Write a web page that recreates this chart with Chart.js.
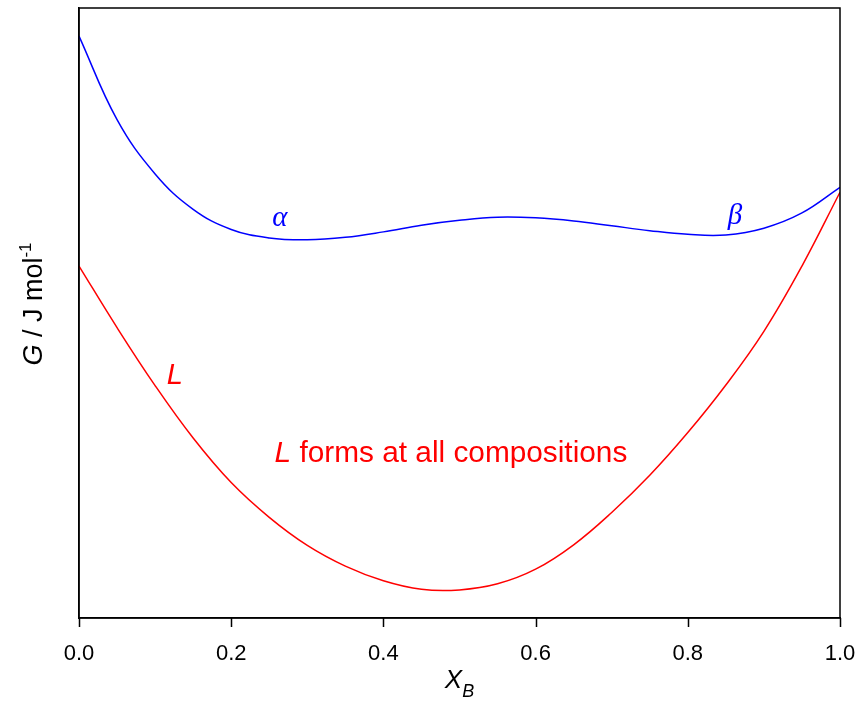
<!DOCTYPE html>
<html>
<head>
<meta charset="utf-8">
<script src="https://cdn.jsdelivr.net/npm/chart.js@4.4.1/dist/chart.umd.min.js"></script>
<style>
  html, body { margin: 0; padding: 0; background: #fff; }
  #wrap { width: 863px; height: 701px; }
</style>
</head>
<body>
<div id="wrap"><canvas id="gibbs"></canvas></div>
<script>
// composition X_B and free energy (arbitrary units, the G axis has no ticks)
const xB = [0, 0.05, 0.1, 0.15, 0.2, 0.25, 0.3, 0.35, 0.4, 0.45, 0.5, 0.55, 0.6, 0.65, 0.7, 0.75, 0.8, 0.85, 0.9, 0.95, 1.0];
const gSolid = [95.4, 81.7, 72.8, 67.0, 63.7, 62.3, 62.0, 62.4, 63.3, 64.4, 65.2, 65.7, 65.6, 65.1, 64.3, 63.5, 62.9, 62.8, 63.9, 66.4, 70.6];
const gLiquid = [57.7, 47.6, 38.1, 29.5, 22.2, 16.5, 11.9, 8.5, 6.1, 4.7, 4.6, 5.6, 8.0, 12.0, 17.3, 23.4, 30.4, 38.2, 47.0, 57.7, 69.8];

const xTickStep = 0.2;

// text labels placed in data coordinates
const phaseLabels = ['α', 'β', 'L'];
const phaseX = [0.264, 0.862, 0.126];
const phaseY = [64.3, 64.6, 38.4];
const noteText = ['L', ' forms at all compositions'];
const noteX = 0.257;
const noteY = 25.5;

const blue = '#0000ff';
const red = '#ff0000';

const toPoints = (xs, ys) => xs.map((x, i) => ({ x: x, y: ys[i] }));

const textPlugin = {
    id: 'gibbsText',
    afterDraw(chart) {
        const ctx = chart.ctx;
        const xs = chart.scales.x;
        const ys = chart.scales.y;
        const area = chart.chartArea;
        ctx.save();

        // frame
        ctx.strokeStyle = '#000';
        ctx.lineWidth = 1.5;
        ctx.strokeRect(area.left, area.top, area.right - area.left, area.bottom - area.top);

        // tick marks below the x axis
        ctx.beginPath();
        xs.ticks.forEach(t => {
            const tx = Math.round(xs.getPixelForValue(t.value)) + 0.5;
            ctx.moveTo(tx, area.bottom);
            ctx.lineTo(tx, area.bottom + 9);
        });
        ctx.stroke();

        // phase labels
        ctx.textBaseline = 'alphabetic';
        ctx.textAlign = 'center';
        phaseLabels.forEach((t, i) => {
            if (t === 'L') {
                ctx.font = 'italic 29px "Liberation Sans", Arial, sans-serif';
                ctx.fillStyle = red;
            } else {
                ctx.font = 'italic 29px "Liberation Serif", "Times New Roman", serif';
                ctx.fillStyle = blue;
            }
            ctx.fillText(t, xs.getPixelForValue(phaseX[i]), ys.getPixelForValue(phaseY[i]));
        });

        // note
        ctx.textAlign = 'left';
        ctx.fillStyle = red;
        let px = xs.getPixelForValue(noteX);
        const py = ys.getPixelForValue(noteY);
        ctx.font = 'italic 29.8px "Liberation Sans", Arial, sans-serif';
        ctx.fillText(noteText[0], px, py);
        px += ctx.measureText(noteText[0]).width;
        ctx.font = '29.8px "Liberation Sans", Arial, sans-serif';
        ctx.fillText(noteText[1], px, py);

        // x axis title X_B
        ctx.fillStyle = '#000';
        const bigX = 'italic 26px "Liberation Sans", Arial, sans-serif';
        const subB = 'italic 18px "Liberation Sans", Arial, sans-serif';
        ctx.font = bigX;
        const wX = ctx.measureText('X').width;
        ctx.font = subB;
        const wB = ctx.measureText('B').width;
        let tx = (area.left + area.right) / 2 - (wX + wB) / 2;
        ctx.font = bigX;
        ctx.fillText('X', tx, 688);
        ctx.font = subB;
        ctx.fillText('B', tx + wX, 697);

        // y axis title G / J mol-1
        ctx.translate(42, 304);
        ctx.rotate(-Math.PI / 2);
        const fG = 'italic 27px "Liberation Sans", Arial, sans-serif';
        const fN = '27px "Liberation Sans", Arial, sans-serif';
        const fS = '17px "Liberation Sans", Arial, sans-serif';
        ctx.font = fG; const w1 = ctx.measureText('G').width;
        ctx.font = fN; const w2 = ctx.measureText(' / J mol').width;
        ctx.font = fS; const w3 = ctx.measureText('-1').width;
        let sx = -(w1 + w2 + w3) / 2;
        ctx.font = fG; ctx.fillText('G', sx, 0); sx += w1;
        ctx.font = fN; ctx.fillText(' / J mol', sx, 0); sx += w2;
        ctx.font = fS; ctx.fillText('-1', sx, -11);
        ctx.restore();
    }
};

new Chart(document.getElementById('gibbs'), {
    type: 'scatter',
    data: {
        datasets: [
            {
                label: 'alpha/beta',
                data: toPoints(xB, gSolid),
                showLine: true,
                borderColor: blue,
                borderWidth: 1.5,
                pointRadius: 0,
                tension: 0.4
            },
            {
                label: 'L',
                data: toPoints(xB, gLiquid),
                showLine: true,
                borderColor: red,
                borderWidth: 1.5,
                pointRadius: 0,
                tension: 0.4
            }
        ]
    },
    options: {
        responsive: true,
        maintainAspectRatio: false,
        animation: false,
        devicePixelRatio: 1,
        layout: { padding: { top: 8, right: 23, left: 0, bottom: 0 } },
        plugins: {
            legend: { display: false },
            tooltip: { enabled: false }
        },
        scales: {
            x: {
                type: 'linear',
                min: 0,
                max: 1,
                afterFit: s => { s.height = 83; s.paddingLeft = 0; s.paddingRight = 0; },
                ticks: {
                    stepSize: xTickStep,
                    callback: v => v.toFixed(1),
                    color: '#000',
                    font: { family: '"Liberation Sans", Arial, sans-serif', size: 22 },
                    padding: 15,
                    maxRotation: 0
                },
                grid: { display: false },
                border: { color: '#000', width: 1.5 }
            },
            y: {
                min: 0,
                max: 100,
                afterFit: s => { s.width = 79; },
                ticks: { display: false },
                grid: { display: false },
                border: { color: '#000', width: 1.5 }
            }
        }
    },
    plugins: [textPlugin]
});
</script>
</body>
</html>
